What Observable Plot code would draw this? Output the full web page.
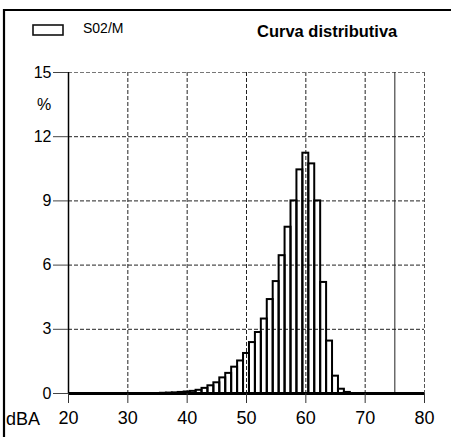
<!DOCTYPE html>
<html>
<head>
<meta charset="utf-8">
<script src="https://cdn.jsdelivr.net/npm/d3@7"></script>
<script src="https://cdn.jsdelivr.net/npm/@observablehq/plot@0.6"></script>
<style>
  html, body { margin: 0; padding: 0; background: #fff; }
  #wrap { position: relative; width: 451px; height: 437px; overflow: hidden; background: #fff;
          font-family: "Liberation Sans", Arial, sans-serif; }
  #wrap > svg { position: absolute; left: 0; top: 0; }
  #overlay { pointer-events: none; }
</style>
</head>
<body>
<div id="wrap"></div>
<script>
// ---- data ----
const dbLevels = [36, 37, 38, 39, 40, 41, 42, 43, 44, 45, 46, 47, 48, 49, 50, 51,
                  52, 53, 54, 55, 56, 57, 58, 59, 60, 61, 62, 63, 64, 65, 66, 67];
const percentages = [0.01, 0.02, 0.03, 0.05, 0.07, 0.10, 0.15, 0.24, 0.36, 0.50, 0.73, 0.94, 1.23, 1.52, 1.87, 2.38,
                     2.85, 3.48, 4.39, 5.23, 6.44, 7.77, 9.00, 10.45, 11.23, 10.73, 9.00, 5.19, 2.45, 0.81, 0.20, 0.05];
const xTicks = [20, 30, 40, 50, 60, 70, 80];
const yTicks = [0, 3, 6, 9, 12, 15];
const xGrid = [30, 40, 50, 60, 70];
const yGrid = [3, 6, 9, 12];
const markerLine = [75];
const seriesName = "S02/M";
const chartTitle = "Curva distributiva";
const yUnit = "%";
const xUnit = "dBA";

const bars = dbLevels.map((db, i) => ({db, pct: percentages[i]}));

const dash = "4,2";
const chart = Plot.plot({
  width: 451,
  height: 437,
  marginLeft: 68,
  marginRight: 27,
  marginTop: 72,
  marginBottom: 44,
  style: {fontFamily: "'Liberation Sans', Arial, sans-serif", background: "transparent", color: "#000", overflow: "visible"},
  x: {domain: [20, 80]},
  y: {domain: [0, 15]},
  marks: [
    Plot.gridX(xGrid, {stroke: "#222", strokeOpacity: 1, strokeDasharray: dash}),
    Plot.gridY(yGrid, {stroke: "#222", strokeOpacity: 1, strokeDasharray: dash}),
    Plot.ruleY([15], {stroke: "#777", strokeDasharray: dash}),
    Plot.ruleX([80], {stroke: "#555", strokeDasharray: dash}),
    Plot.ruleX(markerLine, {stroke: "#222", strokeWidth: 1}),
    Plot.rectY(bars, {x1: d => d.db - 0.5, x2: d => d.db + 0.5, y: "pct", fill: "none", stroke: "#000", strokeWidth: 2}),
    Plot.ruleX([20], {stroke: "#000", strokeWidth: 1.5}),
    Plot.ruleY([0], {stroke: "#000", strokeWidth: 3}),
    Plot.axisX({ticks: xTicks, tickSize: 10, tickPadding: 8, fontSize: 18, stroke: "#333", label: null, tickFormat: d => String(d)}),
    Plot.axisY({ticks: yTicks, tickSize: 15, tickPadding: 2, fontSize: 16, stroke: "#444", label: null, tickFormat: d => String(d)})
  ]
});

const wrap = document.getElementById("wrap");
wrap.appendChild(chart);

// overlay: outer frame, legend, title, unit labels
const ov = d3.create("svg").attr("id", "overlay").attr("width", 451).attr("height", 437)
  .style("font-family", "'Liberation Sans', Arial, sans-serif");
ov.append("path").attr("d", "M4,9V437").attr("stroke", "#000").attr("stroke-width", 2.2);
ov.append("path").attr("d", "M3,10H451").attr("stroke", "#000").attr("stroke-width", 2.2);
ov.append("rect").attr("x", 33).attr("y", 25).attr("width", 30).attr("height", 10)
  .attr("fill", "#fff").attr("stroke", "#111").attr("stroke-width", 1.6);
ov.append("text").attr("x", 83).attr("y", 33).attr("font-size", 14).text(seriesName);
ov.append("text").attr("x", 257).attr("y", 37).attr("font-size", 16.5).attr("font-weight", "bold").text(chartTitle);
ov.append("text").attr("x", 44).attr("y", 110).attr("font-size", 16).attr("text-anchor", "middle").text(yUnit);
ov.append("text").attr("x", 6).attr("y", 425).attr("font-size", 18).text(xUnit);
wrap.appendChild(ov.node());
</script>
</body>
</html>
